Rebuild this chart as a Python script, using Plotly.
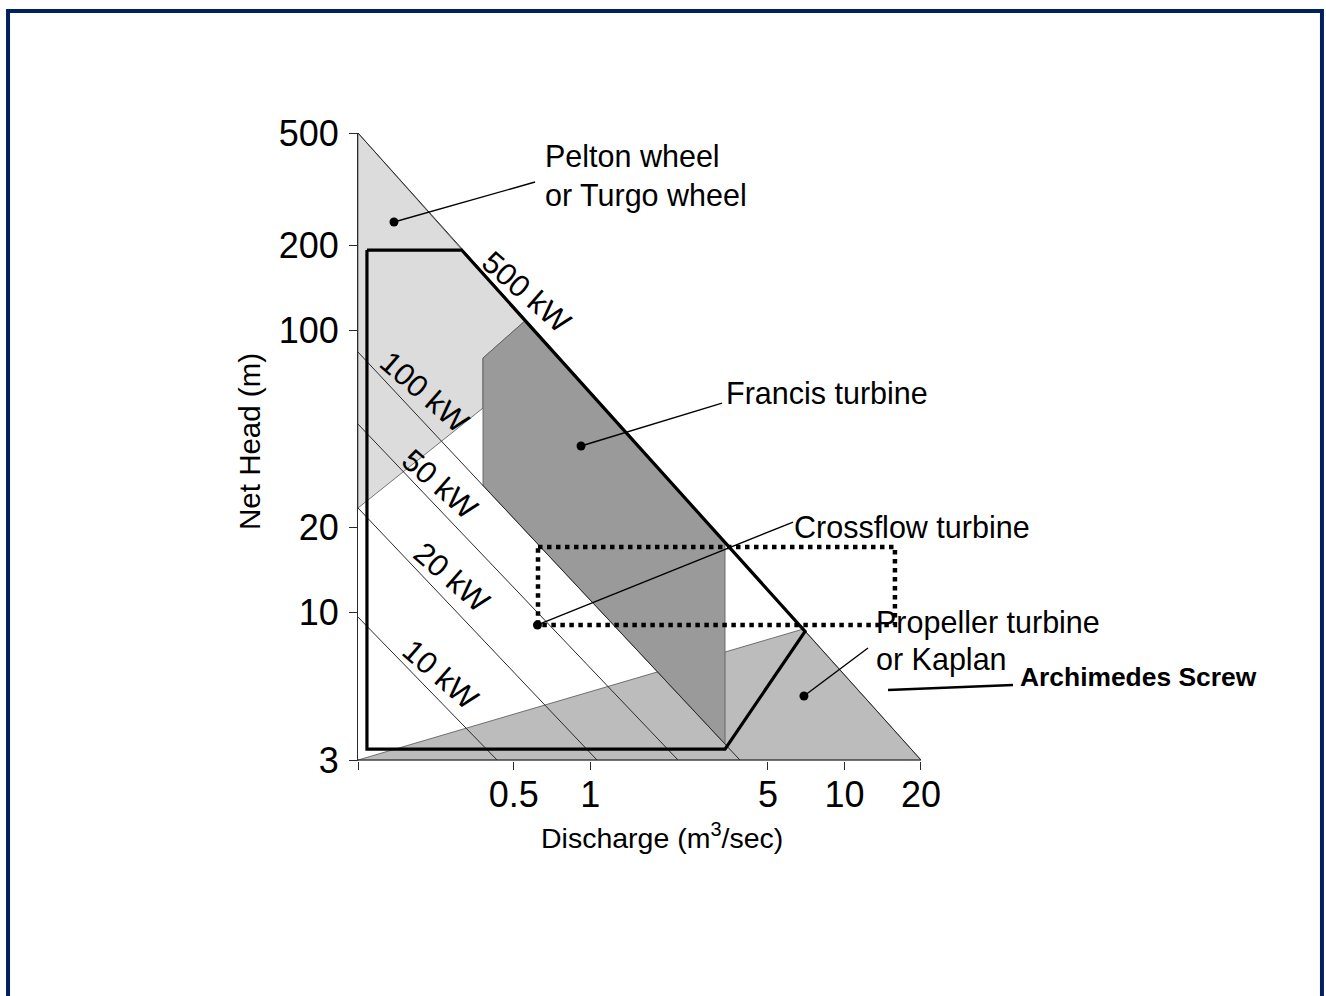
import math
import plotly.graph_objects as go

# ---------------- data (discharge Q in m3/s, net head H in m) ----------------
Q_MIN, Q_MAX = 0.122, 20.0
H_MIN, H_MAX = 3.0, 500.0

pelton_q = [0.122, 0.554, 0.3785, 0.3785, 0.122, 0.122]
pelton_h = [500, 108, 79.7, 53.0, 23.45, 500]

francis_q = [0.3785, 0.554, 3.39, 3.39, 0.3785, 0.3785]
francis_h = [79.7, 108, 17.7, 3.42, 28.2, 79.7]

propeller_q = [0.122, 6.87, 20.0, 0.122]
propeller_h = [3.0, 8.73, 3.0, 3.0]

envelope_q = [0.1323, 0.312, 7.0, 3.39, 0.1323, 0.1323]
envelope_h = [192.4, 192.4, 8.57, 3.28, 3.28, 192.4]

crossflow_q = [0.623, 15.8, 15.8, 0.623, 0.623]
crossflow_h = [17.06, 17.06, 9.03, 9.03, 17.06]

power_labels = ["10 kW", "20 kW", "50 kW", "100 kW", "500 kW"]
power_start_h = [9.63, 23.45, 46.5, 83.7, 500]      # head at Q_MIN
power_end_q = [0.43, 1.063, 2.214, 3.88, 20.0]      # discharge at H_MIN
power_label_q = [0.2565, 0.2859, 0.2565, 0.2239, 0.564]
power_label_h = [6.003, 13.35, 28.5, 60.4, 136.6]

turbine_text = ["Pelton wheel", "or Turgo wheel", "Francis turbine",
                "Crossflow turbine", "Propeller turbine", "or Kaplan"]
turbine_q = [0.652, 0.652, 3.36, 6.22, 13.07, 13.07]
turbine_h = [412.8, 300.2, 59.9, 20.08, 9.25, 6.785]

dot_q = [0.169, 0.92, 0.62, 6.93]
dot_h = [241.9, 38.9, 9.03, 5.057]
lead_q = [0.6065, 3.30, 6.28, 12.38]
lead_h = [335.2, 55.2, 20.9, 7.48]

arch_text = "Archimedes Screw"
arch_line_q = [14.84, 46.04]
arch_line_h = [5.31, 5.53]
arch_label_q, arch_label_h = 48.2, 5.905

x_ticks = [0.122, 0.5, 1, 5, 10, 20]
x_ticktext = [" ", "0.5", "1", "5", "10", "20"]
y_ticks = [3, 10, 20, 100, 200, 500]
y_ticktext = ["3", "10", "20", "100", "200", "500"]

# ---------------- figure ----------------
FONT = "Liberation Sans, Arial, sans-serif"
LINE = "#2a2a2a"

fig = go.Figure()


def poly(q, h, fill, lw=0.8, lc="#555555"):
    fig.add_trace(go.Scatter(x=q, y=h, mode="lines", fill="toself", fillcolor=fill,
                             line=dict(color=lc, width=lw), hoverinfo="skip",
                             showlegend=False))


poly(pelton_q, pelton_h, "#dcdcdc")
poly(propeller_q, propeller_h, "#bcbcbc")
poly(francis_q, francis_h, "#9a9a9a")

# constant power lines
px, py = [], []
for h0, q1 in zip(power_start_h, power_end_q):
    px += [Q_MIN, q1, None]
    py += [h0, H_MIN, None]
fig.add_trace(go.Scatter(x=px, y=py, mode="lines", line=dict(color=LINE, width=1),
                         hoverinfo="skip", showlegend=False))

# triangle outline (bottom edge)
fig.add_trace(go.Scatter(x=[Q_MIN, Q_MAX], y=[H_MIN, H_MIN], mode="lines",
                         line=dict(color=LINE, width=1), hoverinfo="skip",
                         showlegend=False))

# operating envelope (thick)
fig.add_trace(go.Scatter(x=envelope_q, y=envelope_h, mode="lines",
                         line=dict(color="black", width=3.2), hoverinfo="skip",
                         showlegend=False))

# crossflow dotted rectangle
fig.add_trace(go.Scatter(x=crossflow_q, y=crossflow_h, mode="lines",
                         line=dict(color="black", width=4.5, dash="dot"),
                         hoverinfo="skip", showlegend=False))

# leader lines
lx, ly = [], []
for a, b, c, d in zip(dot_q, dot_h, lead_q, lead_h):
    lx += [a, c, None]
    ly += [b, d, None]
fig.add_trace(go.Scatter(x=lx, y=ly, mode="lines", line=dict(color="black", width=1.4),
                         hoverinfo="skip", showlegend=False))
fig.add_trace(go.Scatter(x=arch_line_q, y=arch_line_h, mode="lines",
                         line=dict(color="black", width=2.5), hoverinfo="skip",
                         showlegend=False))
fig.add_trace(go.Scatter(x=dot_q, y=dot_h, mode="markers",
                         marker=dict(color="black", size=9), hoverinfo="skip",
                         showlegend=False, cliponaxis=False))

ann = []
for t, q, h in zip(power_labels, power_label_q, power_label_h):
    ann.append(dict(x=math.log10(q), y=math.log10(h), xref="x", yref="y", text=t,
                    showarrow=False, textangle=41, xanchor="center", yanchor="middle",
                    font=dict(family=FONT, size=31, color="black")))
for t, q, h in zip(turbine_text, turbine_q, turbine_h):
    ann.append(dict(x=math.log10(q), y=math.log10(h), xref="x", yref="y", text=t,
                    showarrow=False, xanchor="left", yanchor="middle",
                    font=dict(family=FONT, size=30.5, color="black")))
ann.append(dict(x=math.log10(arch_label_q), y=math.log10(arch_label_h), xref="x", yref="y",
                text="<b>" + arch_text + "</b>", showarrow=False, xanchor="left",
                yanchor="middle", font=dict(family=FONT, size=26.4, color="black")))
# axis titles
ann.append(dict(x=-0.1159, y=0.5096, xref="paper", yref="paper", text="Net Head (m)",
                showarrow=False, textangle=-90, xanchor="center", yanchor="middle",
                font=dict(family=FONT, size=29.5, color="black")))
ann.append(dict(x=0.3259, y=-0.1194, xref="paper", yref="paper",
                text="Discharge (m<sup>3</sup>/sec)", showarrow=False,
                xanchor="center", yanchor="middle",
                font=dict(family=FONT, size=28.5, color="black")))

fig.update_layout(
    width=1326, height=996,
    margin=dict(l=358, r=36, t=133, b=235),
    paper_bgcolor="white", plot_bgcolor="white",
    showlegend=False,
    annotations=ann,
    shapes=[dict(type="rect", xref="paper", yref="paper",
                 x0=-0.3755, x1=1.0343, y0=-0.40, y1=1.1943,
                 line=dict(color="#002060", width=4), fillcolor="rgba(0,0,0,0)")],
    xaxis=dict(type="log", range=[math.log10(Q_MIN), 2.7528], showgrid=False,
               zeroline=False, showline=False, tickmode="array", tickvals=x_ticks,
               ticktext=x_ticktext, ticks="outside", ticklen=8, tickcolor=LINE,
               tickfont=dict(family=FONT, size=36, color="black"),
               ticklabelstandoff=-6),
    yaxis=dict(type="log", range=[math.log10(H_MIN) - 1 / 282.2, math.log10(H_MAX)],
               showgrid=False, zeroline=False, showline=True, linecolor=LINE,
               linewidth=1, tickmode="array", tickvals=y_ticks, ticktext=y_ticktext,
               ticks="outside", ticklen=8, tickcolor=LINE,
               tickfont=dict(family=FONT, size=36, color="black"),
               ticklabelstandoff=3),
)

fig.write_html("out.html")
